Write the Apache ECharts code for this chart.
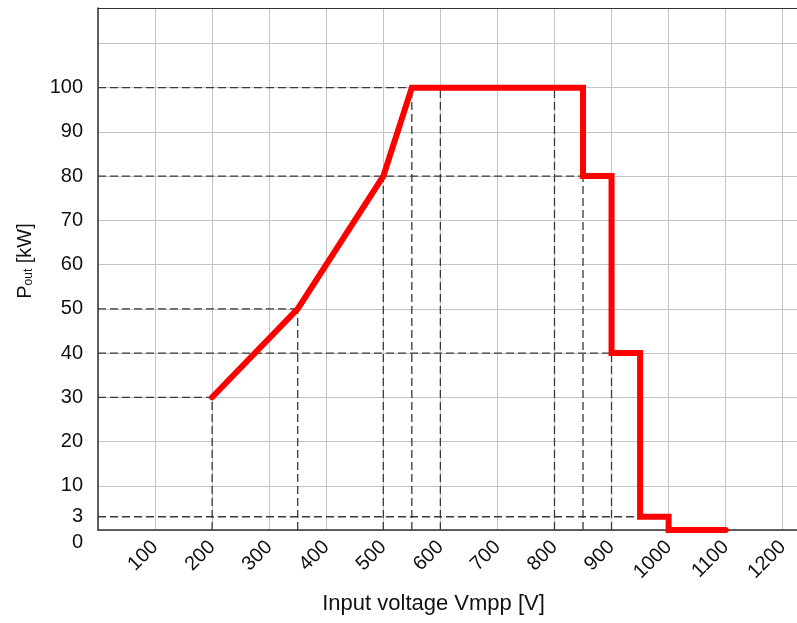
<!DOCTYPE html>
<html>
<head>
<meta charset="utf-8">
<script src="https://cdn.jsdelivr.net/npm/echarts@6/dist/echarts.min.js"></script>
<style>html,body{margin:0;padding:0;background:#fff}#c{width:797px;height:623px}</style>
</head>
<body>
<div id="c"></div>
<script>
// Derating curve points [voltage V, power kW]
const curveV = [200, 350, 500, 550, 850, 850, 900, 900, 950, 950, 1000, 1000, 1100];
const curveP = [30, 50, 80, 100, 100, 80, 80, 40, 40, 3, 3, 0, 0];
// Horizontal guide lines: [power level, voltage where it ends]
const guideH = [[100, 550], [80, 850], [50, 350], [40, 900], [30, 200], [3, 950]];
// Vertical guide lines: [voltage, power where it ends]
const guideV = [[200, 30], [350, 50], [500, 80], [550, 100], [600, 100], [800, 100], [850, 80], [900, 40]];
// Tick labels
const yLabels = [0, 3, 10, 20, 30, 40, 50, 60, 70, 80, 90, 100];
const xLabels = [100, 200, 300, 400, 500, 600, 700, 800, 900, 1000, 1100, 1200];

const FONT = 'Liberation Sans, Arial, sans-serif';
const chart = echarts.init(document.getElementById('c'), null, {renderer: 'canvas'});

const dashStyle = {color: '#3a3a3a', width: 1.3, type: [8, 4]};
const series = [];
guideH.forEach(g => series.push({
  type: 'line', data: [[0, g[0]], [g[1], g[0]]], symbol: 'none', silent: true,
  lineStyle: dashStyle, z: 3, clip: false
}));
guideV.forEach(g => series.push({
  type: 'line', data: [[g[0], 0], [g[0], g[1]]], symbol: 'none', silent: true,
  lineStyle: dashStyle, z: 3, clip: false
}));
series.push({
  type: 'line',
  data: curveV.map((v, i) => [v, curveP[i]]),
  symbol: 'none', clip: false, z: 10,
  lineStyle: {color: '#ff0000', width: 6, cap: 'round', join: 'miter'}
});

chart.setOption({
  animation: false,
  backgroundColor: '#fff',
  grid: {left: 98, right: 0, top: 8, bottom: 93, containLabel: false, outerBoundsMode: 'none', show: false},
  xAxis: [{
    type: 'value', min: 0, max: 1225, interval: 100,
    name: 'Input voltage Vmpp [V]', nameLocation: 'middle', nameGap: 63,
    nameTextStyle: {fontFamily: FONT, fontSize: 22, color: '#111', padding: [0, 28, 0, 0]},
    axisLine: {show: true, lineStyle: {color: '#333', width: 1.5}},
    axisTick: {show: false},
    splitLine: {show: true, showMaxLine: false, lineStyle: {color: '#c4c4c4', width: 1}},
    axisLabel: {
      rotate: 45, margin: 14, fontFamily: FONT, fontSize: 20, color: '#111',
      showMinLabel: true, showMaxLabel: true,
      formatter: v => (xLabels.indexOf(v) >= 0 ? String(v) : '')
    }
  }, {
    type: 'value', position: 'top', min: 0, max: 1225,
    axisLine: {show: true, onZero: false, lineStyle: {color: '#333', width: 1.2}},
    axisTick: {show: false}, axisLabel: {show: false}, splitLine: {show: false}
  }],
  yAxis: {
    type: 'value', min: 0, max: 118, interval: 10,
    name: '{p|P}{s|out}{p| [kW]}', nameLocation: 'middle', nameGap: 63,
    nameTextStyle: {
      fontFamily: FONT, color: '#111', padding: [0, 0, 0, 16],
      rich: {
        p: {fontFamily: FONT, fontSize: 20, color: '#111', lineHeight: 24, verticalAlign: 'bottom'},
        s: {fontFamily: FONT, fontSize: 12, color: '#111', lineHeight: 4, verticalAlign: 'bottom'}
      }
    },
    axisLine: {show: true, lineStyle: {color: '#333', width: 1.5}},
    axisTick: {show: false},
    splitLine: {show: true, lineStyle: {color: '#c4c4c4', width: 1}},
    axisLabel: {
      customValues: yLabels, margin: 15, fontFamily: FONT, fontSize: 20, color: '#111',
      formatter: v => (v === 0 ? '{z|0}' : String(v)),
      rich: {z: {fontFamily: FONT, fontSize: 20, color: '#111', padding: [24, 0, 0, 0]}}
    }
  },
  series: series
});
</script>
</body>
</html>
